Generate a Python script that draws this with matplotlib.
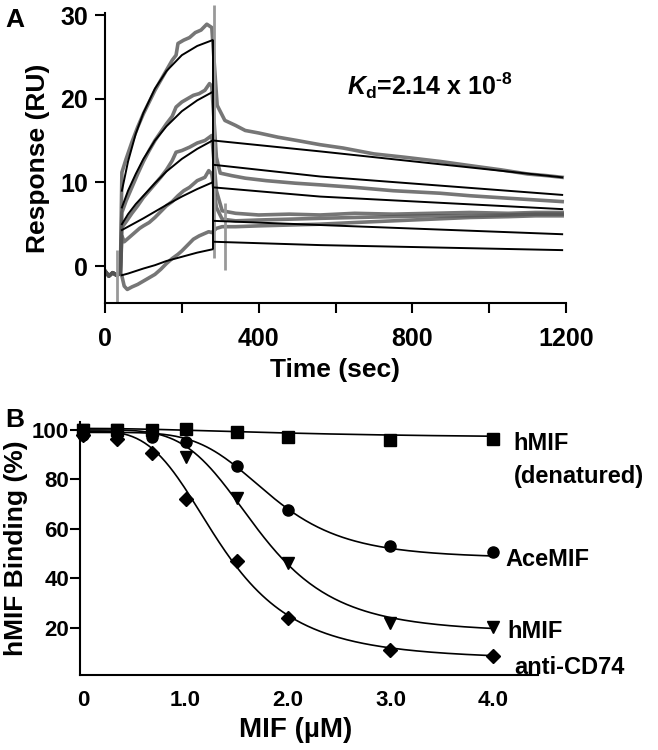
import numpy as np
import matplotlib
matplotlib.use('Agg')
import matplotlib.pyplot as plt

plt.rcParams['font.family'] = ['Liberation Sans', 'DejaVu Sans']
plt.rcParams['font.weight'] = 'bold'
plt.rcParams['mathtext.fontset'] = 'custom'
plt.rcParams['mathtext.rm'] = 'Liberation Sans:bold'
plt.rcParams['mathtext.it'] = 'Liberation Sans:bold:italic'
plt.rcParams['mathtext.bf'] = 'Liberation Sans:bold'

# ---------------- panel A : sensorgrams ----------------
base_t = [0, 10, 20, 30, 40]
base_y = [-0.6, -1.2, -0.8, -1.1, -0.9]

tr1_t = [44, 55, 70, 85, 100, 115, 130, 145, 160, 175, 185, 190, 205, 220, 235, 250, 265, 278,
         292, 312, 340, 365, 400, 450, 500, 560, 620, 700, 780, 872, 950, 1030, 1100, 1150, 1190]
tr1_y = [11.2, 12.8, 14.8, 16.6, 18.2, 19.6, 21.0, 22.2, 23.4, 24.6, 25.2, 26.6, 27.0, 27.3, 27.9, 28.2, 28.9, 28.5,
         19.2, 17.4, 16.8, 16.2, 15.9, 15.4, 15.0, 14.5, 14.1, 13.4, 13.0, 12.5, 12.0, 11.5, 11.0, 10.8, 10.6]

tr2_t = [44, 55, 70, 85, 100, 115, 130, 145, 160, 175, 185, 200, 215, 230, 245, 260, 272, 278,
         290, 300, 330, 365, 420, 495, 560, 650, 750, 872, 950, 1050, 1120, 1190]
tr2_y = [6.4, 7.8, 9.4, 11.0, 12.5, 13.8, 15.0, 16.0, 17.0, 17.9, 19.0, 19.6, 20.0, 20.4, 20.6, 21.0, 21.8, 21.5,
         13.0, 11.1, 10.8, 10.5, 10.2, 9.9, 9.7, 9.4, 9.0, 8.7, 8.4, 8.1, 7.9, 7.7]

tr3_t = [44, 55, 70, 85, 100, 115, 130, 145, 160, 175, 185, 200, 220, 240, 260, 278,
         290, 305, 340, 400, 480, 560, 650, 750, 850, 950, 1050, 1120, 1190]
tr3_y = [4.6, 5.3, 6.3, 7.2, 8.2, 9.0, 9.8, 10.6, 11.5, 12.6, 13.6, 13.8, 14.2, 14.7, 15.0, 15.6,
         9.0, 6.6, 6.3, 6.1, 6.2, 6.1, 6.3, 6.2, 6.3, 6.4, 6.3, 6.4, 6.4]

tr4_t = [44, 50, 60, 75, 90, 100, 115, 130, 145, 160, 175, 190, 205, 220, 240, 260, 270, 278,
         290, 305, 340, 400, 480, 560, 650, 750, 850, 950, 1050, 1120, 1190]
tr4_y = [3.6, 2.9, 3.3, 3.9, 4.5, 4.8, 5.2, 5.8, 6.5, 7.2, 7.7, 8.4, 9.0, 9.4, 10.2, 10.6, 11.4, 11.0,
         7.0, 5.6, 5.4, 5.5, 5.6, 5.7, 5.8, 5.9, 6.0, 6.0, 6.1, 6.2, 6.2]

tr5_t = [44, 50, 58, 70, 85, 100, 115, 130, 145, 160, 175, 190, 200, 215, 230, 245, 260, 270, 278,
         290, 305, 340, 400, 480, 560, 650, 750, 850, 950, 1050, 1120, 1190]
tr5_y = [-1.2, -2.4, -2.8, -2.5, -2.2, -1.8, -1.4, -1.0, -0.4, 0.3, 0.9, 1.4, 1.8, 2.5, 3.2, 3.6, 3.9, 4.1, 4.0,
         4.5, 4.7, 4.7, 4.8, 4.9, 5.0, 5.2, 5.4, 5.6, 5.8, 5.9, 6.0, 6.0]

# fitted curves
fit_a_t = [44, 60, 80, 100, 130, 160, 200, 240, 280]
fit_a1 = [9.0, 12.5, 15.8, 18.3, 21.2, 23.3, 25.2, 26.3, 27.0]
fit_a2 = [7.0, 9.0, 11.0, 12.8, 15.0, 16.7, 18.5, 19.8, 20.8]
fit_a3 = [5.0, 6.2, 7.4, 8.4, 9.9, 11.3, 12.8, 14.0, 15.0]
fit_a4 = [4.3, 4.7, 5.2, 5.7, 6.5, 7.3, 8.3, 9.2, 10.0]
fit_a5 = [-1.1, -0.9, -0.6, -0.3, 0.1, 0.6, 1.1, 1.6, 2.0]

fit_d_t = [282, 560, 1190]
fit_d1 = [15.0, 13.7, 10.6]
fit_d2 = [12.1, 10.7, 8.5]
fit_d3 = [9.4, 8.3, 6.8]
fit_d4 = [5.4, 4.9, 3.8]
fit_d5 = [2.9, 2.5, 1.9]

# injection spikes
spike_t = [31, 283, 312]
spike_lo = [-4.4, 1.0, -0.5]
spike_hi = [1.9, 31.2, 7.5]

# ---------------- panel B : competition binding ----------------
conc = [0, 0.33, 0.67, 1.0, 1.5, 2.0, 3.0, 4.0]
denatured = [100, 100, 100, 100.5, 99.3, 97, 96, 96.4]
acemif = [98, 99, 97, 95, 85.5, 67.7, 53, 50.8]
hmif = [100, 100, 97.5, 89, 72.6, 46.4, 22, 20.5]
anticd74 = [98, 96.4, 90.7, 72, 47, 24, 11, 8.7]

# logistic fit parameters: top, bottom, x50, hill
fit_params = {
    'den': (100.6, 96.5, 2.2, 2.0),
    'ace': (99.0, 48.0, 1.83, 4.9),
    'hmif': (100.0, 18.0, 1.72, 4.5),
    'cd74': (99.5, 7.0, 1.35, 3.6),
}

fig = plt.figure(figsize=(6.58, 7.5), dpi=100)

# ---------- A ----------
ax = fig.add_axes([105 / 658, 1 - 303 / 750, 461 / 658, 290 / 750])
gray = '0.33'
for t, y in [(tr1_t, tr1_y), (tr2_t, tr2_y), (tr3_t, tr3_y), (tr4_t, tr4_y), (tr5_t, tr5_y)]:
    ax.plot(base_t + t, base_y + y, color=gray, lw=2.6, alpha=0.8)
ax.vlines(spike_t, spike_lo, spike_hi, color='0.6', lw=2, clip_on=False)
for f in [fit_a1, fit_a2, fit_a3, fit_a4, fit_a5]:
    ax.plot(fit_a_t, f, color='black', lw=1.4)
ax.vlines([fit_a_t[-1]], fit_a5[-1], fit_a1[-1], color='black', lw=1.4)
for f in [fit_d1, fit_d2, fit_d3, fit_d4, fit_d5]:
    ax.plot(fit_d_t, f, color='black', lw=1.4)

ax.set_xlim(0, 1200)
ax.set_ylim(-4.42, 30.24)
ax.set_xticks([0, 400, 800, 1200])
ax.set_xticks([200, 600, 1000], minor=True)
ax.set_yticks([0, 10, 20, 30])
for s in ['top', 'right']:
    ax.spines[s].set_visible(False)
for s in ['left', 'bottom']:
    ax.spines[s].set_linewidth(1.5)
ax.tick_params(which='both', direction='out', length=7, width=1.5)
ax.tick_params(axis='x', labelsize=18, pad=10)
ax.tick_params(axis='y', labelsize=18, pad=5)
ax.set_xlabel('Time (sec)', fontsize=19, fontweight='bold')
ax.set_ylabel('Response (RU)', fontsize=19, fontweight='bold')
ax.xaxis.set_label_coords(0.5, -0.19)
ax.yaxis.set_label_coords(-0.12, 0.5)
ax.text(630, 21.6, '$K_{\\mathrm{d}}$=2.14 x 10$^{\\mathrm{\u20108}}$', fontsize=18,
        fontweight='bold', va='center', ha='left')

fig.text(5 / 658, 1 - 27 / 750, 'A', fontsize=19, fontweight='bold')

# ---------- B ----------
bx = fig.add_axes([80 / 658, 1 - 675 / 750, 458 / 658, 253 / 750])


def logistic(x, p):
    top, bot, x50, h = p
    return bot + (top - bot) / (1 + (x / x50) ** h)


xs = np.linspace(0, 4, 200)
for key in fit_params:
    bx.plot(xs, logistic(xs, fit_params[key]), color='black', lw=1.2)

bx.plot(conc, denatured, 's', color='black', ms=8, clip_on=False)
bx.plot(conc, acemif, 'o', color='black', ms=8, clip_on=False)
bx.plot(conc, hmif, 'v', color='black', ms=9, clip_on=False)
bx.plot(conc, anticd74, 'D', color='black', ms=7, clip_on=False)

bx.set_xlim(-0.03, 4.44)
bx.set_ylim(1.0, 103.2)
bx.set_yticks([20, 40, 60, 80, 100])
bx.set_xticks([0, 1, 2, 3, 4])
bx.set_xticklabels(['0', '1.0', '2.0', '3.0', '4.0'])
bx.set_xticks([3, 4], minor=True)
for s in ['top', 'right']:
    bx.spines[s].set_visible(False)
for s in ['left', 'bottom']:
    bx.spines[s].set_linewidth(1.5)
bx.tick_params(axis='y', direction='out', length=7, width=1.5, labelsize=16, pad=1)
bx.tick_params(axis='x', which='major', length=0, labelsize=16, pad=11)
bx.tick_params(axis='x', which='minor', direction='in', length=6, width=1.2)
bx.set_xlabel('MIF (µM)', fontsize=20, fontweight='bold')
bx.set_ylabel('hMIF Binding (%)', fontsize=19, fontweight='bold')
bx.xaxis.set_label_coords(0.47, -0.165)
bx.yaxis.set_label_coords(-0.113, 0.5)

bx.text(4.2, 94.7, 'hMIF', fontsize=17, fontweight='bold', va='center', clip_on=False)
bx.text(4.2, 81, '(denatured)', fontsize=17, fontweight='bold', va='center', clip_on=False)
bx.text(4.12, 47.5, 'AceMIF', fontsize=17, fontweight='bold', va='center', clip_on=False)
bx.text(4.14, 18.4, 'hMIF', fontsize=17, fontweight='bold', va='center', clip_on=False)
bx.text(4.21, 4.2, 'anti-CD74', fontsize=17, fontweight='bold', va='center', clip_on=False)

fig.text(5 / 658, 1 - 427 / 750, 'B', fontsize=19, fontweight='bold')

fig.savefig('out.png', dpi=100)
